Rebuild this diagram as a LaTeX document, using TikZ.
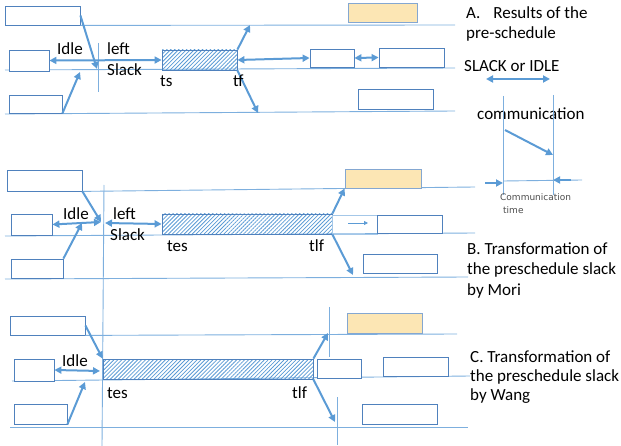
\documentclass[tikz,border=0pt]{standalone}
\usepackage{fontspec}
\setmainfont{Carlito}
\newfontfamily\smallfont{DejaVu Sans}
\usepackage{xcolor}
\definecolor{Col1}{RGB}{79,129,189}
\definecolor{Col2}{RGB}{91,155,213}
\definecolor{Col3}{RGB}{125,175,222}
\definecolor{Col4}{RGB}{252,230,180}
\usetikzlibrary{patterns.meta}
\usetikzlibrary{arrows.meta}
\tikzstyle{Box}=[draw=Col1,line width=.8pt,fill=white,inner sep=0pt]
\tikzstyle{Task}=[draw=Col1,line width=.8pt,inner sep=0pt,
pattern={Lines[angle=45,distance=2.8pt,line width=.8pt]},pattern color=Col2]
\tikzstyle{Comm}=[draw=Col1!70,line width=.8pt,fill=Col4,inner sep=0pt]
\tikzstyle{Ghost}=[draw=Col3!70,line width=.8pt,inner sep=0pt]
\tikzstyle{Lane}=[draw=Col3,line width=.9pt]
\tikzstyle{Edge}=[draw=Col2,line width=2pt,-{Triangle[length=7pt,width=7pt]}]
\tikzstyle{BiEdge}=[draw=Col2,line width=2pt,
{Triangle[length=7pt,width=7pt]}-{Triangle[length=7pt,width=7pt]}]
\tikzstyle{SmallEdge}=[draw=Col2,line width=.8pt,-{Triangle[length=4pt,width=4pt]}]
\tikzstyle{NodeST}=[font=\fontsize{17}{20}\selectfont,inner sep=0pt,anchor=base west]
\tikzstyle{NodeSM}=[font=\smallfont\fontsize{9}{11}\selectfont,text=black!70,
inner sep=0pt,anchor=base west]
\begin{document}
\begin{tikzpicture}[x=1pt,y=-1pt]
    \useasboundingbox(0,0)rectangle(621,446);
    % A. results of the pre-schedule
    \node[Box,minimum width=75pt,minimum height=19pt](a1)at(42.5,15.5){};
    \coordinate(la1)at(455,25);
    \coordinate(la2w)at(5,70);
    \coordinate(la2e)at(455,68);
    \coordinate(la3w)at(5,114);
    \coordinate(la3e)at(455,111);
    \coordinate(va1)at(98,43);
    \coordinate(va2)at(98,92);
    \draw[Lane](a1.south east)--(la1);
    \draw[Lane](la2w)--(la2e);
    \draw[Lane](la3w)--(la3e);
    \draw[Lane](va1)--(va2);
    \node[Comm,minimum width=69pt,minimum height=19pt](ya)at(382.5,12.5){};
    \node[Box,minimum width=40pt,minimum height=21pt](a2)at(29,60.5){};
    \node[Task,minimum width=75pt,minimum height=20pt](h1)at(199.5,60){};
    \node[Box,minimum width=53pt,minimum height=18pt](a3)at(35.5,104){};
    \node[Box,minimum width=44pt,minimum height=18pt](a4)at(332,58){};
    \node[Box,minimum width=65pt,minimum height=19pt](a5)at(411.5,57.5){};
    \node[Box,minimum width=75pt,minimum height=20pt](a6)at(395.5,99){};
    \coordinate(pa1)at(97,69);
    \coordinate(pa2)at(80,72);
    \coordinate(pa3)at(250,25);
    \coordinate(pa4)at(258,113);
    \draw[Edge](a1.east)--(pa1);
    \draw[Edge](a3.south east)--(pa2);
    \draw[BiEdge](a2.east)--(h1.west);
    \draw[Edge](h1.north east)--(pa3);
    \draw[Edge](h1.south east)--(pa4);
    \draw[BiEdge](h1.east)--(a4.west);
    \draw[BiEdge](a4.east)--(a5.west);
    \node[NodeST](ta1)at(57,55){Idle};
    \node[NodeST](ta2)at(107,55){left};
    \node[NodeST](ta3)at(107,76){Slack};
    \node[NodeST](ta4)at(160,87){ts};
    \node[NodeST](ta5)at(233,87){tf};
    \node[NodeST](ta6)at(466,19){A.\hspace{13pt}Results of the};
    \node[NodeST](ta7)at(466,39){pre-schedule};
    % legend
    \node[NodeST](tl1)at(464,72){SLACK or IDLE};
    \coordinate(ll1)at(486,79);
    \coordinate(ll2)at(550,79);
    \draw[BiEdge](ll1)--(ll2);
    \node[NodeST](tl2)at(477,120){communication};
    \coordinate(lv1)at(503,96);
    \coordinate(lv2)at(503,195);
    \coordinate(lv3)at(553,95);
    \coordinate(lv4)at(553,195);
    \coordinate(lh1)at(582,180);
    \coordinate(lh2)at(503,181);
    \draw[Lane](lv1)--(lv2);
    \draw[Lane](lv3)--(lv4);
    \draw[Lane](lh2)--(lh1);
    \coordinate(lc1)at(505,130);
    \coordinate(lc2)at(553,155);
    \draw[Edge](lc1)--(lc2);
    \coordinate(lr1)at(485,183);
    \coordinate(lr2)at(503,183);
    \coordinate(lr3)at(571,180);
    \coordinate(lr4)at(553,180);
    \draw[Edge](lr1)--(lr2);
    \draw[Edge](lr3)--(lr4);
    \node[NodeSM](tl3)at(500,201){Communication};
    \node[NodeSM](tl4)at(503,214){time};
    % B. transformation by Mori
    \node[Box,minimum width=75pt,minimum height=21pt](b1)at(44.5,180.5){};
    \coordinate(lb1)at(475,187);
    \coordinate(lb2w)at(5,236);
    \coordinate(lb2e)at(475,233);
    \coordinate(lb3w)at(5,279);
    \coordinate(lb3e)at(468,277);
    \coordinate(vb1)at(104,185);
    \coordinate(vb2)at(102,446);
    \draw[Lane](b1.south east)--(lb1);
    \draw[Lane](lb2w)--(lb2e);
    \draw[Lane](lb3w)--(lb3e);
    \draw[Lane](vb1)--(vb2);
    \node[Comm,minimum width=76pt,minimum height=19pt](yb)at(383,178.5){};
    \node[Box,minimum width=41pt,minimum height=21pt](b2)at(31.5,224.5){};
    \node[Task,minimum width=170pt,minimum height=20pt](hb)at(247,224){};
    \node[Box,minimum width=52pt,minimum height=19pt](b3)at(37,268.5){};
    \node[Ghost,minimum width=45pt,minimum height=19pt](gb)at(354.5,224.5){};
    \node[Box,minimum width=65pt,minimum height=18pt](b4)at(409.5,224){};
    \node[Box,minimum width=74pt,minimum height=19pt](b5)at(400,263.5){};
    \coordinate(pb1)at(101,222);
    \coordinate(pb2)at(82,223);
    \coordinate(pb3)at(105,223);
    \coordinate(pb4)at(353,275);
    \coordinate(gs1)at(348,223);
    \coordinate(gs2)at(368,223);
    \draw[Edge](b1.south east)--(pb1);
    \draw[Edge](b3.north east)--(pb2);
    \draw[BiEdge](b2.east)--(pb1);
    \draw[BiEdge](pb3)--(hb.west);
    \draw[Edge](hb.north east)--(yb.south west);
    \draw[Edge](hb.south east)--(pb4);
    \draw[SmallEdge](gs1)--(gs2);
    \node[NodeST](tb1)at(63,220){Idle};
    \node[NodeST](tb2)at(113,220){left};
    \node[NodeST](tb3)at(110,241){Slack};
    \node[NodeST](tb4)at(167,252){tes};
    \node[NodeST](tb5)at(309,252){tlf};
    \node[NodeST](tb6)at(467,255){B. Transformation of};
    \node[NodeST](tb7)at(467,275){the preschedule slack};
    \node[NodeST](tb8)at(467,295){by Mori};
    % C. transformation by Wang
    \node[Box,minimum width=75pt,minimum height=19pt](c1)at(47.5,325.5){};
    \coordinate(lc1e)at(457,334);
    \coordinate(lc2w)at(12,381);
    \coordinate(lc2e)at(470,376);
    \coordinate(lc3w)at(10,427);
    \coordinate(lc3e)at(468,427);
    \coordinate(vc1)at(329,307);
    \coordinate(vc2)at(329,357);
    \coordinate(vc3)at(337,397);
    \coordinate(vc4)at(337,445);
    \draw[Lane](c1.south east)--(lc1e);
    \draw[Lane](lc2w)--(lc2e);
    \draw[Lane](lc3w)--(lc3e);
    \draw[Lane](vc1)--(vc2);
    \draw[Lane](vc3)--(vc4);
    \node[Comm,minimum width=75pt,minimum height=20pt](yc)at(384.5,323){};
    \node[Box,minimum width=40pt,minimum height=22pt](c2)at(34,370){};
    \node[Task,minimum width=210pt,minimum height=20pt](hc)at(208,369){};
    \node[Box,minimum width=44pt,minimum height=19pt](c3)at(339,368.5){};
    \node[Box,minimum width=65pt,minimum height=19pt](c4)at(415.5,366.5){};
    \node[Box,minimum width=53pt,minimum height=20pt](c5)at(40.5,414){};
    \node[Box,minimum width=75pt,minimum height=20pt](c6)at(399.5,414){};
    \coordinate(pc1)at(85,382);
    \coordinate(pc2)at(100,371);
    \coordinate(pc3)at(328,333);
    \coordinate(pc4)at(335,422);
    \draw[Edge](c1.east)--(hc.north west);
    \draw[Edge](c5.south east)--(pc1);
    \draw[BiEdge](c2.east)--(pc2);
    \draw[Edge](hc.north east)--(pc3);
    \draw[Edge](hc.south east)--(pc4);
    \node[NodeST](tc1)at(62,366){Idle};
    \node[NodeST](tc2)at(107,398){tes};
    \node[NodeST](tc3)at(292,398){tlf};
    \node[NodeST](tc4)at(470,362){C. Transformation of};
    \node[NodeST](tc5)at(470,381){the preschedule slack};
    \node[NodeST](tc6)at(470,400){by Wang};
\end{tikzpicture}
\end{document}
